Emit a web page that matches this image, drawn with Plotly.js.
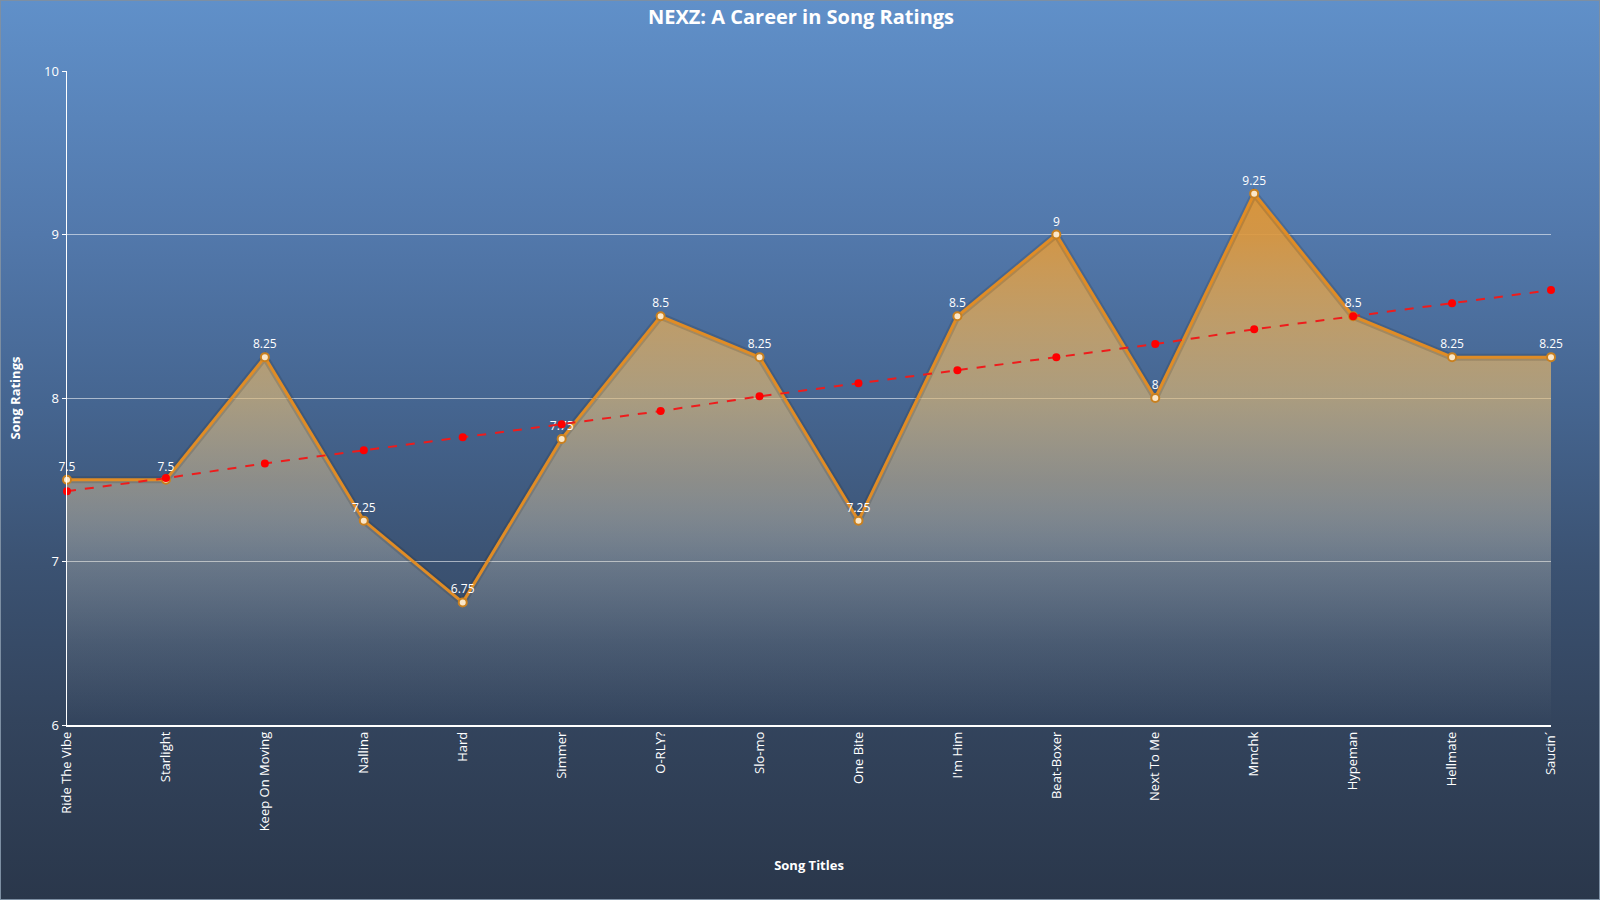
<!DOCTYPE html>
<html>
<head>
<meta charset="utf-8">
<script src="https://cdn.plot.ly/plotly-3.0.1.min.js"></script>
<style>
html,body{margin:0;padding:0;}
#chart{width:1600px;height:900px;box-sizing:border-box;border:1px solid #7d8fa3;
background:linear-gradient(to bottom,#6090c9 0%,#5278ab 26%,#456590 45%,#3b5272 63%,#33445d 80%,#2a374b 100%);}
</style>
</head>
<body>
<div id="chart"></div>
<script>
const songs = ["Ride The Vibe","Starlight","Keep On Moving","Nallina","Hard","Simmer","O-RLY?","Slo-mo","One Bite","I'm Him","Beat-Boxer","Next To Me","Mmchk","Hypeman","Hellmate","Saucin´"];
const ratings = [7.5,7.5,8.25,7.25,6.75,7.75,8.5,8.25,7.25,8.5,9,8,9.25,8.5,8.25,8.25];
const trend = [7.43,7.51,7.60,7.68,7.76,7.84,7.92,8.01,8.09,8.17,8.25,8.33,8.42,8.50,8.58,8.66];
const yTicks = [6,7,8,9,10];

const font = "Segoe UI, 'Open Sans', 'Noto Sans', sans-serif";

const traces = [
  {
    x: songs, y: ratings, type: 'scatter', mode: 'lines',
    fill: 'tozeroy',
    fillgradient: {type: 'vertical', start: 6, stop: 9.25,
      colorscale: [
        [0,'rgba(245,235,210,0.0)'],
        [0.154,'rgba(245,235,210,0.1)'],
        [0.308,'rgba(244,232,204,0.25)'],
        [0.46,'rgba(216,190,145,0.5)'],
        [0.615,'rgba(224,185,117,0.65)'],
        [0.923,'rgba(221,152,61,0.92)'],
        [1,'rgba(222,150,55,0.95)']]},
    line: {color: 'rgba(30,25,20,0.15)', width: 7},
    hoverinfo: 'skip', showlegend: false
  },
  {
    x: songs, y: ratings, type: 'scatter', mode: 'lines+markers+text',
    line: {color: '#e08c25', width: 3},
    marker: {size: 8, color: '#fbe7c8', line: {color: '#c9801f', width: 2}},
    text: ratings.map(String), textposition: 'top center',
    textfont: {color: '#ffffff', size: 12, family: font},
    cliponaxis: false, hoverinfo: 'x+y', showlegend: false
  },
  {
    x: songs, y: trend, type: 'scatter', mode: 'lines+markers',
    line: {color: '#ee1c1c', width: 2, dash: 'dash'},
    marker: {size: 8, color: '#ff0000'},
    cliponaxis: false, showlegend: false
  }
];

const layout = {
  width: 1600, height: 900,
  paper_bgcolor: 'rgba(0,0,0,0)', plot_bgcolor: 'rgba(0,0,0,0)',
  margin: {l: 66, r: 50, t: 70, b: 176},
  font: {family: font, color: '#ffffff', size: 13},
  title: {text: '<b>NEXZ: A Career in Song Ratings</b>', x: 0.5, xanchor: 'center', y: 0.982, yanchor: 'middle',
    font: {size: 20, color: '#ffffff', family: font}},
  xaxis: {
    type: 'category', range: [0, 15], tickangle: -90,
    showgrid: false, showline: true, linecolor: '#ffffff', linewidth: 1.5,
    ticks: '', tickfont: {size: 13, color: '#ffffff'},
    title: {text: '<b>Song Titles</b>', font: {size: 13, color: '#ffffff'}, standoff: 30},
    automargin: false
  },
  yaxis: {
    range: [6, 10], tickvals: yTicks, ticktext: yTicks.map(String),
    showgrid: true, gridcolor: 'rgba(255,255,255,0.55)', gridwidth: 1,
    showline: true, linecolor: '#ffffff', linewidth: 1.5,
    ticks: 'outside', ticklen: 4, tickcolor: '#ffffff',
    tickfont: {size: 13, color: '#ffffff'}, zeroline: false,
    title: {text: '<b>Song Ratings</b>', font: {size: 13, color: '#ffffff'}, standoff: 20},
    automargin: false
  }
};

Plotly.newPlot('chart', traces, layout, {displayModeBar: false, staticPlot: true});
</script>
</body>
</html>
